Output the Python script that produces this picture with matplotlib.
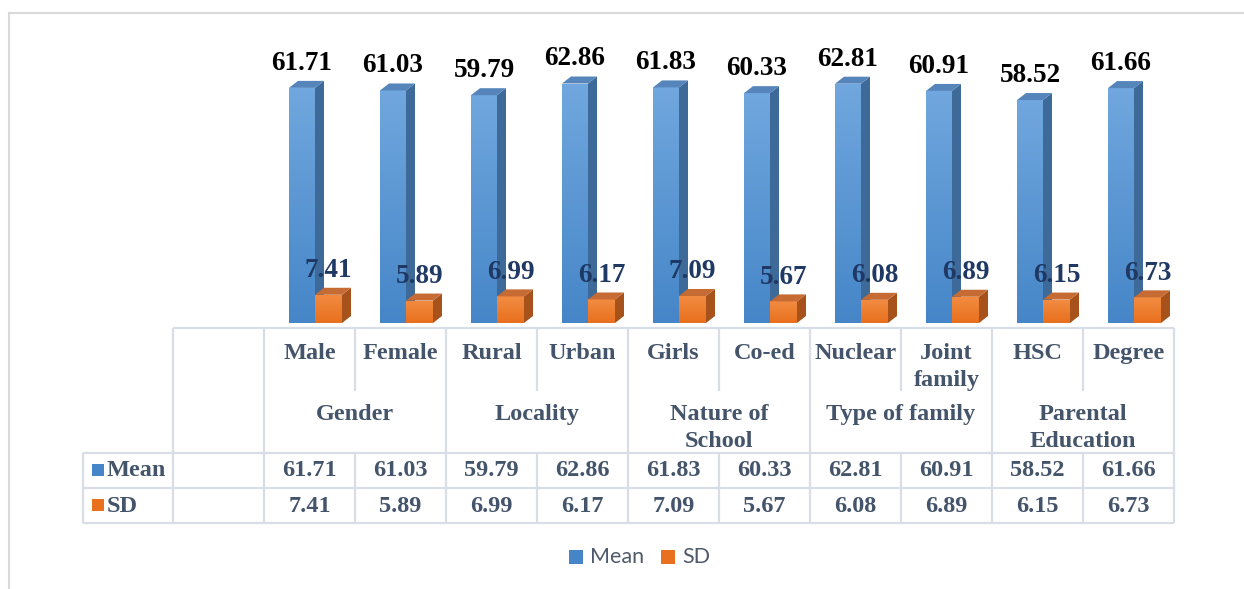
import matplotlib.pyplot as plt
import numpy as np
from matplotlib.patches import Polygon, Rectangle
from matplotlib.colors import LinearSegmentedColormap

categories = ['Male', 'Female', 'Rural', 'Urban', 'Girls', 'Co-ed', 'Nuclear', 'Joint\nfamily', 'HSC', 'Degree']
groups = ['Gender', 'Locality', 'Nature of\nSchool', 'Type of family', 'Parental\nEducation']
mean_vals = [61.71, 61.03, 59.79, 62.86, 61.83, 60.33, 62.81, 60.91, 58.52, 61.66]
sd_vals = [7.41, 5.89, 6.99, 6.17, 7.09, 5.67, 6.08, 6.89, 6.15, 6.73]
series = ['Mean', 'SD']

W, H = 1244, 589
SERIF = 'Liberation Serif'
TXT = '#44546A'
GRID = '#D9DEE6'

# colours: front (bottom, top), side, top
MEAN_COL = (['#4686C8', '#70A7DE'], '#3D6A98', '#5585BA')
SD_COL = (['#E8701E', '#F28C42'], '#A8521B', '#C56B33')

fig = plt.figure(figsize=(W / 100, H / 100), dpi=100)

# overlay axes in pixel coordinates for frame, table and legend
ov = fig.add_axes([0, 0, 1, 1])
ov.set_xlim(0, W)
ov.set_ylim(H, 0)
ov.axis('off')

# bar axes: one unit in x = one table column
tab_left, tab_right, col_w = 264, 1174, 91
base_px, top_px, px_per_unit = 323, 30, 3.81
bx = fig.add_axes([tab_left / W, 1 - base_px / H, (tab_right - tab_left) / W, (base_px - top_px) / H])
ymax = (base_px - top_px) / px_per_unit
bx.axis('off')

dx, dy = 9 / col_w, 7 / px_per_unit


def bar3d(ax, x, h, w, cols, z):
    front, side, top = cols
    x0, x1 = x - w / 2, x + w / 2
    rect = Rectangle((x0, 0), w, h, facecolor='none', edgecolor='none', zorder=z)
    ax.add_patch(rect)
    grad = np.linspace(0, 1, 64).reshape(-1, 1)
    im = ax.imshow(grad, cmap=LinearSegmentedColormap.from_list('g', front), origin='lower',
                   extent=[x0, x1, 0, h], aspect='auto', zorder=z)
    im.set_clip_path(rect)
    ax.add_patch(Polygon([(x1, 0), (x1 + dx, dy), (x1 + dx, h + dy), (x1, h)], closed=True,
                         facecolor=side, edgecolor='none', zorder=z))
    ax.add_patch(Polygon([(x0, h), (x0 + dx, h + dy), (x1 + dx, h + dy), (x1, h)], closed=True,
                         facecolor=top, edgecolor='none', zorder=z))


xs = np.arange(len(categories))
for i, (m, s) in enumerate(zip(mean_vals, sd_vals)):
    xm = xs[i] - 7.5 / col_w
    xsd = xs[i] + 19 / col_w
    bar3d(bx, xm, m, 26 / col_w, MEAN_COL, 2)
    bar3d(bx, xsd, s, 27 / col_w, SD_COL, 3)
    bx.text(xm, m + dy + 2.9, f'{m:.2f}', ha='center', va='baseline', fontsize=19.5,
            fontweight='bold', family=SERIF, color='black', zorder=5)
    bx.text(xsd, s + dy + 2.8, f'{s:.2f}', ha='center', va='baseline', fontsize=19.5,
            fontweight='bold', family=SERIF, color='#1F3864', zorder=5)

bx.set_xlim(-0.5, len(categories) - 0.5)
bx.set_ylim(0, ymax)

# outer chart frame
ov.plot([9, 9], [13, H], color='#D9D9D9', lw=1.5)
ov.plot([9, W], [13, 13], color='#D9D9D9', lw=1.5)

# data table
hdr_top, sub_end, mean_top, sd_top, tab_bot = 328, 391, 453, 488, 523
lab_left, blank_left = 83, 173
lk = dict(color=GRID, lw=1.6, solid_capstyle='butt')
ov.plot([blank_left, tab_right], [hdr_top, hdr_top], **lk)
for y in (mean_top, sd_top, tab_bot):
    ov.plot([lab_left, tab_right], [y, y], **lk)
ov.plot([lab_left, lab_left], [mean_top, tab_bot], **lk)
ov.plot([blank_left, blank_left], [hdr_top, tab_bot], **lk)
for k in range(len(categories) + 1):
    x = tab_left + k * col_w
    if k % 2 == 0:
        ov.plot([x, x], [hdr_top, tab_bot], **lk)
    else:
        ov.plot([x, x], [hdr_top, sub_end], **lk)
        ov.plot([x, x], [mean_top, tab_bot], **lk)

tk = dict(fontsize=17.5, fontweight='bold', family=SERIF, color=TXT, ha='center')
for i, c in enumerate(categories):
    ov.text(tab_left + (i + 0.5) * col_w, 343, c, va='top', linespacing=1.38, **tk)
for g, name in enumerate(groups):
    ov.text(tab_left + (2 * g + 1) * col_w, 404, name, va='top', linespacing=1.38, **tk)
for i, (m, s) in enumerate(zip(mean_vals, sd_vals)):
    xc = tab_left + (i + 0.5) * col_w
    ov.text(xc, 471, f'{m:.2f}', va='center', **tk)
    ov.text(xc, 506, f'{s:.2f}', va='center', **tk)

for name, yc, cols in ((series[0], 470, MEAN_COL), (series[1], 505, SD_COL)):
    ov.add_patch(Rectangle((92, yc - 6), 12, 12, facecolor=cols[0][0], edgecolor='none'))
    ov.text(107, yc + 1, name, va='center', ha='left', fontsize=17.5, fontweight='bold',
            family=SERIF, color=TXT)

# legend
for name, x0, cols in ((series[0], 569, MEAN_COL), (series[1], 661, SD_COL)):
    ov.add_patch(Rectangle((x0, 550), 14, 14, facecolor=cols[0][0], edgecolor='none'))
    ov.text(x0 + 21, 557, name, va='center', ha='left', fontsize=15.5, family='Lato', color='#505A6B')

fig.savefig('out.png', dpi=100)
